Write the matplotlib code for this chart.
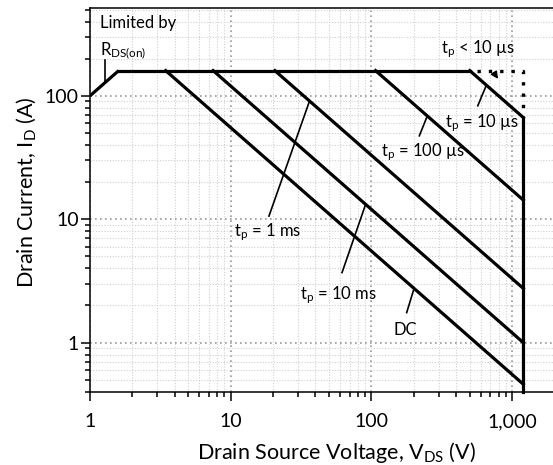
import numpy as np
import matplotlib.pyplot as plt
from matplotlib.ticker import FixedLocator, LogLocator, NullFormatter, FixedFormatter

plt.rcParams['font.family'] = ['Lato', 'DejaVu Sans']
plt.rcParams['mathtext.default'] = 'regular'

# safe operating area data
v_max = 1200
i_flat = 160
rds_v = [1, 1.6]
rds_i = [100, 160]
flat_v = [1.6, 500]
pulse_names = ['10 us', '100 us', '1 ms', '10 ms', 'DC']
pulse_start_v = [500, 107, 20.6, 7.5, 3.45]
pulse_end_i = [66.7, 14.3, 2.75, 1.0, 0.46]
dotted_v = [560, 1200, 1200]
dotted_i = [160, 160, 68]

x_ticks = [1, 10, 100, 1000]
x_labels = ['1', '10', '100', '1,000']
y_ticks = [1, 10, 100]
y_labels = ['1', '10', '100']

# annotation labels: text, text pos, leader (start, end)
labels = [
    ('t$_p$ = 10 \u00b5s', (608, 59.6), (570, 83), (653, 120.5)),
    ('t$_p$ = 100 \u00b5s', (231, 34.7), (219, 47.4), (247, 66.7)),
    ('t$_p$ = 1 ms', (18.4, 7.79), (18.7, 10.6), (36.0, 88.2)),
    ('t$_p$ = 10 ms', (57.9, 2.44), (61.8, 3.69), (90.1, 12.8)),
    ('DC', (174.7, 1.27), (178, 1.75), (198.6, 2.63)),
]

fig = plt.figure(figsize=(5.53, 4.65), dpi=100)
ax = fig.add_axes([90/553, 1-391.7/465, 464.5/553, (391.7-8.5)/465])
ax.set_xscale('log')
ax.set_yscale('log')
ax.set_xlim(1, 2000)
ax.set_ylim(0.4, 510)

lw = 2.3
ax.plot(rds_v, rds_i, color='k', lw=lw, solid_capstyle='butt')
ax.plot(flat_v, [i_flat, i_flat], color='k', lw=lw)
for v0, i1 in zip(pulse_start_v, pulse_end_i):
    ax.plot([v0, v_max], [i_flat, i1], color='k', lw=lw)
ax.plot([v_max, v_max], [pulse_end_i[0], 0.4], color='k', lw=lw, clip_on=False)
ax.plot(dotted_v, dotted_i, color='k', lw=2.4, linestyle=(0, (1, 2.4)), dash_capstyle='butt')

fs = 12
ax.text(1.18, 391, 'Limited by', fontsize=fs, va='center', ha='left')
ax.text(1.18, 228, 'R$_{DS(on)}$', fontsize=fs, va='center', ha='left')
ax.plot([1.278, 1.278], [196, 127.8], color='k', lw=1.2)

ax.annotate('t$_p$ < 10 \u00b5s', xy=(794, 137), xytext=(572, 240), fontsize=fs,
            ha='center', va='center',
            arrowprops=dict(arrowstyle='-|>', color='k', lw=1.2, mutation_scale=10,
                            shrinkA=9, shrinkB=0))

for txt, pos, p0, p1 in labels:
    ax.text(pos[0], pos[1], txt, fontsize=fs, ha='center', va='center')
    ax.plot([p0[0], p1[0]], [p0[1], p1[1]], color='k', lw=1.2)

ax.xaxis.set_major_locator(FixedLocator(x_ticks))
ax.xaxis.set_major_formatter(FixedFormatter(x_labels))
ax.yaxis.set_major_locator(FixedLocator(y_ticks))
ax.yaxis.set_major_formatter(FixedFormatter(y_labels))
ax.xaxis.set_minor_locator(LogLocator(base=10, subs=np.arange(2, 10)))
ax.yaxis.set_minor_locator(LogLocator(base=10, subs=np.arange(2, 10)))
ax.xaxis.set_minor_formatter(NullFormatter())
ax.yaxis.set_minor_formatter(NullFormatter())

ax.grid(which='major', color='#999999', linestyle=(0, (1, 2)), lw=1.2)
ax.grid(which='minor', color='#d0d0d0', linestyle=(0, (1, 1.5)), lw=0.8)
ax.tick_params(which='major', direction='out', length=6.5, width=1.1, labelsize=14)
ax.tick_params(axis='y', which='major', pad=1.5)
ax.tick_params(axis='x', which='major', pad=9)
ax.tick_params(which='minor', direction='out', length=3.6, width=1.1)
for s in ax.spines.values():
    s.set_linewidth(1.1)

ax.set_xlabel('Drain Source Voltage, V$_{DS}$ (V)', fontsize=15.5)
ax.set_ylabel('Drain Current, I$_D$ (A)', fontsize=15.5)
ax.xaxis.set_label_coords(0.53, -0.125)
ax.yaxis.set_label_coords(-0.112, 0.52)

fig.savefig('out.png', dpi=100)
